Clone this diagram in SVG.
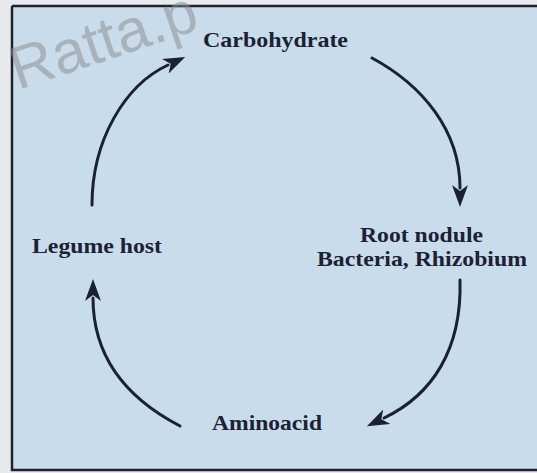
<svg xmlns="http://www.w3.org/2000/svg" width="537" height="473" viewBox="0 0 537 473">
<style>
.lbl{font-family:"Liberation Serif","Times New Roman",serif;font-weight:bold;font-size:22px;fill:#1c2233}
.arc{fill:none;stroke:#1a2035;stroke-width:3;stroke-linecap:round}
.wm{font-family:"Liberation Sans",Arial,sans-serif;font-size:60px;fill:#8f8f8f;fill-opacity:0.55}
</style>
<defs>
<marker id="ah" viewBox="0 0 22 16" refX="3" refY="8" markerWidth="22" markerHeight="16" markerUnits="userSpaceOnUse" orient="auto">
<path d="M0,0 L22,8 L0,16 L6,8 Z" fill="#1a2035"/>
</marker>
</defs>
<rect x="0" y="0" width="537" height="473" fill="#e7eaec"/>
<rect x="11" y="5" width="526" height="465" fill="#c9dceb"/>
<g id="frame" fill="none" stroke="#1e2230" stroke-width="2.5">
<path d="M12,6 H537 M12,6 V470 H537"/>
</g>
<text class="wm" transform="translate(18,90) rotate(-18.5)">Ratta.p</text>
<g id="connectors">
<path class="arc" d="M92,205 C92,140 125,85 168,65" marker-end="url(#ah)"/>
<path class="arc" d="M372,58 C422,85 460,130 460,188" marker-end="url(#ah)"/>
<path class="arc" d="M460,280 C462,350 432,395 384,418" marker-end="url(#ah)"/>
<path class="arc" d="M180,426 C130,400 93,360 93,298" marker-end="url(#ah)"/>
</g>
<g id="carbohydrate"><text class="lbl" x="203" y="47" textLength="145" lengthAdjust="spacingAndGlyphs">Carbohydrate</text></g>
<g id="root-nodule">
<text class="lbl" x="360" y="242" textLength="123" lengthAdjust="spacingAndGlyphs">Root nodule</text>
<text class="lbl" x="317" y="266" textLength="210" lengthAdjust="spacingAndGlyphs">Bacteria, Rhizobium</text>
</g>
<g id="aminoacid"><text class="lbl" x="212" y="430" textLength="110" lengthAdjust="spacingAndGlyphs">Aminoacid</text></g>
<g id="legume-host"><text class="lbl" x="32" y="253" textLength="130" lengthAdjust="spacingAndGlyphs">Legume host</text></g>
</svg>
